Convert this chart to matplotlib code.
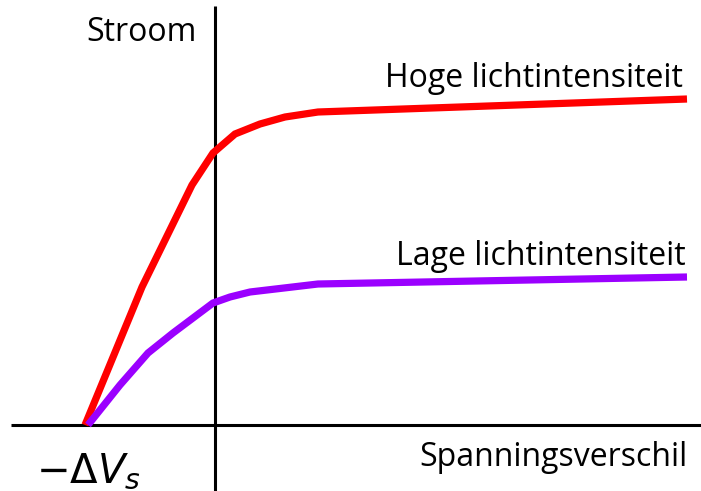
import matplotlib
matplotlib.use("Agg")
import matplotlib.pyplot as plt

# Data in axis units (voltage right of vertical axis, current above horizontal axis)
high_v = [-130, -73, -23, -2, 20, 45, 70, 103, 472]
high_i = [0, 138, 240, 272, 291, 301, 308, 313, 326]
low_v = [-127, -95, -67, -42, -2, 15, 35, 103, 472]
low_i = [0, 40, 72, 92, 122, 128, 133, 141, 148]

labels = {
    "y": "Stroom",
    "x": "Spanningsverschil",
    "high": "Hoge lichtintensiteit",
    "low": "Lage lichtintensiteit",
    "vs": r"$-\Delta V_s$",
}

plt.rcParams["mathtext.fontset"] = "dejavusans"

fig = plt.figure(figsize=(7.01, 4.91), dpi=100)
ax = fig.add_axes([0, 0, 1, 1])
ax.set_xlim(-215, 486)
ax.set_ylim(-66, 425)
ax.axis("off")

font = "Open Sans"
# axes lines
ax.plot([-204, 486], [0, 0], color="black", lw=2.2, solid_capstyle="butt")
ax.plot([0, 0], [-66, 419], color="black", lw=2.2, solid_capstyle="butt")

ax.plot(high_v, high_i, color="#ff0000", lw=5.2, solid_joinstyle="miter", solid_capstyle="butt")
ax.plot(low_v, low_i, color="#9b00ff", lw=5.2, solid_joinstyle="miter", solid_capstyle="butt")

fs = 23
ax.text(-73, 384, labels["y"], fontsize=fs, family=font, ha="center", va="baseline")
ax.text(473, -41, labels["x"], fontsize=fs, family=font, ha="right", va="baseline")
ax.text(468, 338, labels["high"], fontsize=fs, family=font, ha="right", va="baseline")
ax.text(471, 160, labels["low"], fontsize=fs, family=font, ha="right", va="baseline")
ax.text(-127, -57, labels["vs"], fontsize=29, ha="center", va="baseline")

fig.savefig("out.png", dpi=100)
